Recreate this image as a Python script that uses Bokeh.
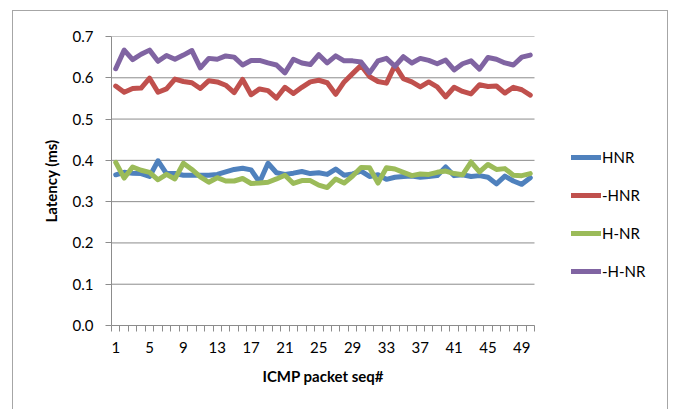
from bokeh.plotting import figure
from bokeh.models import FixedTicker, Legend, LegendItem, NumeralTickFormatter, Title
from bokeh.embed import file_html
from bokeh.resources import INLINE

# ICMP round-trip latency per packet sequence number, four configurations
seq = list(range(1, 51))

hnr = [0.365, 0.371, 0.369, 0.368, 0.361, 0.399, 0.368, 0.368, 0.364, 0.364,
       0.364, 0.364, 0.366, 0.372, 0.378, 0.381, 0.377, 0.347, 0.393, 0.370,
       0.366, 0.369, 0.373, 0.368, 0.370, 0.366, 0.379, 0.364, 0.367, 0.374,
       0.361, 0.365, 0.354, 0.359, 0.361, 0.362, 0.359, 0.361, 0.363, 0.384,
       0.363, 0.365, 0.361, 0.363, 0.359, 0.343, 0.362, 0.350, 0.342, 0.358]

neg_hnr = [0.580, 0.565, 0.574, 0.575, 0.599, 0.565, 0.573, 0.597, 0.591, 0.588,
           0.574, 0.593, 0.590, 0.582, 0.564, 0.596, 0.559, 0.573, 0.569, 0.551,
           0.577, 0.562, 0.577, 0.590, 0.594, 0.588, 0.560, 0.590, 0.610, 0.630,
           0.603, 0.591, 0.587, 0.630, 0.598, 0.590, 0.578, 0.590, 0.578, 0.554,
           0.577, 0.567, 0.561, 0.583, 0.579, 0.580, 0.563, 0.577, 0.571, 0.558]

h_nr = [0.395, 0.357, 0.384, 0.376, 0.371, 0.353, 0.366, 0.355, 0.393, 0.378,
        0.360, 0.347, 0.358, 0.350, 0.350, 0.356, 0.344, 0.345, 0.347, 0.355,
        0.364, 0.344, 0.351, 0.351, 0.340, 0.334, 0.355, 0.345, 0.362, 0.383,
        0.382, 0.345, 0.382, 0.379, 0.371, 0.363, 0.367, 0.366, 0.371, 0.374,
        0.368, 0.365, 0.396, 0.372, 0.390, 0.378, 0.380, 0.364, 0.363, 0.368]

neg_h_nr = [0.622, 0.667, 0.644, 0.657, 0.667, 0.640, 0.654, 0.645, 0.655, 0.666,
            0.624, 0.647, 0.645, 0.653, 0.650, 0.631, 0.642, 0.642, 0.636, 0.631,
            0.612, 0.645, 0.636, 0.632, 0.656, 0.636, 0.653, 0.641, 0.641, 0.638,
            0.612, 0.641, 0.647, 0.628, 0.651, 0.636, 0.647, 0.642, 0.634, 0.643,
            0.619, 0.634, 0.641, 0.621, 0.649, 0.645, 0.636, 0.631, 0.650, 0.655]

series_names = ["HNR", "-HNR", "H-NR", "-H-NR"]
series_values = [hnr, neg_hnr, h_nr, neg_h_nr]
series_colors = ["#4F81BD", "#C0504D", "#9BBB59", "#8064A2"]

x_tick_labels = [1, 5, 9, 13, 17, 21, 25, 29, 33, 37, 41, 45, 49]
y_ticks = [0.0, 0.1, 0.2, 0.3, 0.4, 0.5, 0.6, 0.7]

FONT = "Lato"
GRID = "#8c8c8c"

# The frame runs on to the right edge so the legend can sit inside it;
# the plotted area itself covers 0.5 .. 50.5 over 423 px.
X_LO, X_HI = 0.5, len(seq) + 0.5
PLOT_W_PX = 423
FRAME_W_PX = 548
x_end = X_LO + (X_HI - X_LO) * FRAME_W_PX / PLOT_W_PX

p = figure(width=656, height=399,
           x_range=(X_LO, x_end), y_range=(0, 0.7),
           output_backend="svg", toolbar_location=None,
           min_border_left=98, min_border_right=656 - 98 - FRAME_W_PX,
           min_border_top=25, min_border_bottom=85)
p.margin = (10, 0, 0, 12)
p.styles = {"border-left": "1px solid #a6a6a6", "border-top": "1px solid #a6a6a6",
            "border-right": "1px solid #a6a6a6"}
p.background_fill_color = "white"
p.border_fill_color = "white"
p.outline_line_color = None

# horizontal gridlines, limited to the plotted span
p.xgrid.grid_line_color = None
p.ygrid.grid_line_color = None
p.segment(x0=[X_LO] * len(y_ticks), x1=[X_HI] * len(y_ticks),
          y0=y_ticks, y1=y_ticks, line_color=GRID, line_width=1)

renderers = []
for vals, color in zip(series_values, series_colors):
    r = p.line(seq, vals, line_width=5, color=color,
               line_join="round", line_cap="round")
    renderers.append(r)

# x axis: category boundaries carry the tick marks, every fourth seq# is labelled
xa = p.xaxis[0]
xa.bounds = (X_LO, X_HI)
xa.ticker = FixedTicker(ticks=x_tick_labels,
                        minor_ticks=[i + 0.5 for i in range(0, len(seq) + 1)])
xa.axis_line_color = GRID
xa.major_tick_line_color = None
xa.major_tick_out = 6
xa.major_tick_in = 0
xa.minor_tick_line_color = GRID
xa.minor_tick_out = 6
xa.minor_tick_in = 0
xa.major_label_standoff = 10
xa.major_label_text_font = FONT
xa.major_label_text_font_size = "15px"
xa.major_label_text_color = "black"

# x-axis title, centred under the plotted span rather than the whole frame
x_title = Title(text="ICMP packet seq#", align="left", offset=151,
                text_font=FONT, text_font_size="15px", text_font_style="bold",
                text_color="black", standoff=18)
p.add_layout(x_title, "below")

ya = p.yaxis[0]
ya.ticker = FixedTicker(ticks=y_ticks)
ya.formatter = NumeralTickFormatter(format="0.0")
ya.axis_line_color = GRID
ya.major_tick_line_color = GRID
ya.major_tick_out = 6
ya.major_tick_in = 0
ya.minor_tick_line_color = None
ya.major_label_standoff = 12
ya.major_label_text_font = FONT
ya.major_label_text_font_size = "15px"
ya.major_label_text_color = "black"
ya.axis_label = "Latency (ms)"
ya.axis_label_text_font = FONT
ya.axis_label_text_font_size = "15px"
ya.axis_label_text_font_style = "bold"
ya.axis_label_text_color = "black"
ya.axis_label_standoff = 10

legend = Legend(items=[LegendItem(label=n, renderers=[r])
                       for n, r in zip(series_names, renderers)],
                location=(460, 44))
legend.padding = 0
legend.margin = 0
legend.spacing = 18
legend.glyph_width = 30
legend.glyph_height = 20
legend.label_standoff = 1
legend.label_height = 20
legend.label_text_font = FONT
legend.label_text_font_size = "15px"
legend.label_text_color = "black"
legend.background_fill_alpha = 0
legend.border_line_color = None
p.add_layout(legend, "center")

open("out.html", "w").write(file_html(p, INLINE))
